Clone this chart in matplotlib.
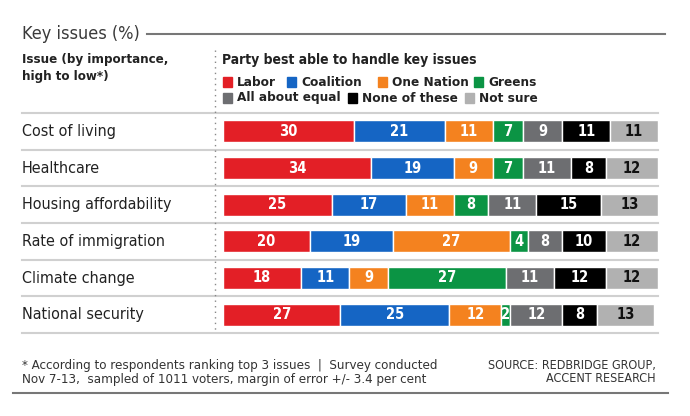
import matplotlib
matplotlib.use("Agg")
import matplotlib.pyplot as plt
from matplotlib.transforms import blended_transform_factory
from matplotlib.patches import Rectangle
from matplotlib import font_manager

# data
issues = ["Cost of living", "Healthcare", "Housing affordability",
          "Rate of immigration", "Climate change", "National security"]
parties = ["Labor", "Coalition", "One Nation", "Greens",
           "All about equal", "None of these", "Not sure"]
labor = [30, 34, 25, 20, 18, 27]
coalition = [21, 19, 17, 19, 11, 25]
one_nation = [11, 9, 11, 27, 9, 12]
greens = [7, 7, 8, 4, 27, 2]
all_equal = [9, 11, 11, 8, 11, 12]
none_these = [11, 8, 15, 10, 12, 8]
not_sure = [11, 12, 13, 12, 12, 13]
series = [labor, coalition, one_nation, greens, all_equal, none_these, not_sure]

colors = ["#e31f26", "#1565c4", "#f4821f", "#0b9444", "#6d6e71", "#000000", "#b1b1b1"]
text_colors = ["white"] * 6 + ["#111111"]

# condensed look if available
fonts = [(f.name, f.stretch) for f in font_manager.fontManager.ttflist]
if any(n == "DejaVu Sans" and s == "condensed" for n, s in fonts):
    plt.rcParams["font.family"] = ["DejaVu Sans"]
    plt.rcParams["font.stretch"] = "condensed"
else:
    plt.rcParams["font.family"] = ["Roboto", "DejaVu Sans"]

W, H = 690, 416
fig = plt.figure(figsize=(W / 100, H / 100), dpi=100)
fig.patch.set_facecolor("white")


def fx(px):
    return px / W


def fy(py):
    return 1 - py / H


# bar area
top, bottom = 113, 333
ax = fig.add_axes([fx(223), fy(bottom), fx(658) - fx(223), (bottom - top) / H])
ax.set_xlim(0, 100)
ax.set_ylim(len(issues) - 0.5, -0.5)
ax.axis("off")

for i in range(len(issues)):
    left = 0
    for s, vals in enumerate(series):
        v = vals[i]
        ax.barh(i, v, left=left, height=0.6, color=colors[s],
                edgecolor="white", linewidth=1.0)
        ax.text(left + v / 2, i, str(v), ha="center", va="center",
                color=text_colors[s], fontsize=10.5, fontweight="bold")
        left += v

# row separators
tr = blended_transform_factory(fig.transFigure, ax.transData)
for b in range(len(issues) + 1):
    ax.plot([fx(22), fx(658)], [b - 0.5, b - 0.5], transform=tr,
            color="#d0d0d0", lw=1.5, clip_on=False)

# category labels
for i, name in enumerate(issues):
    ax.text(fx(22), i, name, transform=tr, ha="left", va="center",
            fontsize=11.5, color="#222222")

# title and rules
fig.text(fx(22), fy(34), "Key issues (%)", ha="left", va="center",
         fontsize=13, color="#3a3a3a")
fig.add_artist(plt.Line2D([fx(147), fx(665)], [fy(34), fy(34)],
                          color="#777777", lw=1.5))
fig.add_artist(plt.Line2D([fx(215), fx(215)], [fy(50), fy(330)],
                          color="#888888", lw=1, ls=(0, (1, 3))))

fig.text(fx(22), fy(63), "Issue (by importance,", ha="left", va="baseline",
         fontsize=9.5, fontweight="bold", color="#222222")
fig.text(fx(22), fy(80), "high to low*)", ha="left", va="baseline",
         fontsize=9.5, fontweight="bold", color="#222222")
fig.text(fx(222), fy(60), "Party best able to handle key issues", ha="left",
         va="center", fontsize=10, fontweight="bold", color="#222222")

# legend
leg_pos = [(223, 82), (287, 82), (378, 82), (474, 82),
           (223, 98), (348, 98), (465, 98)]
for (px, py), name, c in zip(leg_pos, parties, colors):
    fig.add_artist(Rectangle((fx(px), fy(py + 5)), fx(9), 10 / H,
                             transform=fig.transFigure, color=c))
    fig.text(fx(px + 14), fy(py), name, ha="left", va="center",
             fontsize=9.7, fontweight="bold", color="#222222")

# footnotes
fig.text(fx(22), fy(365), "* According to respondents ranking top 3 issues  |  Survey conducted",
         ha="left", va="center", fontsize=9.5, color="#333333")
fig.text(fx(22), fy(379), "Nov 7-13,  sampled of 1011 voters, margin of error +/- 3.4 per cent",
         ha="left", va="center", fontsize=9.5, color="#333333")
fig.text(fx(656), fy(365), "SOURCE: REDBRIDGE GROUP,", ha="right", va="center",
         fontsize=9, color="#333333")
fig.text(fx(656), fy(379), "ACCENT RESEARCH", ha="right", va="center",
         fontsize=9, color="#333333")
fig.add_artist(plt.Line2D([fx(13), fx(668)], [fy(393), fy(393)],
                          color="#777777", lw=1.5))

fig.savefig("out.png", dpi=100, facecolor="white")
